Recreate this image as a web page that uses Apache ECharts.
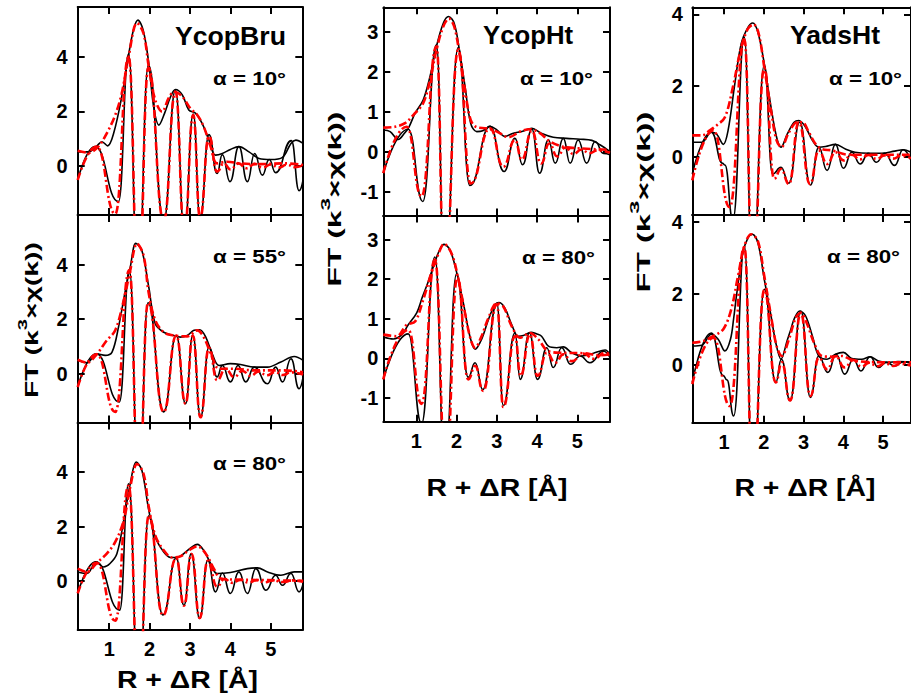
<!DOCTYPE html>
<html>
<head>
<meta charset="utf-8">
<script src="https://cdn.jsdelivr.net/npm/echarts@6/dist/echarts.min.js"></script>
<style>
html, body { margin: 0; padding: 0; background: #fff; }
#chart { width: 911px; height: 697px; }
</style>
</head>
<body>
<div id="chart"></div>
<script>
// Fourier-transformed EXAFS, |FT| and Im(FT): measured (black) vs fit (red), [R+dR, value]

// ---- YcopBru, alpha = 10 deg ----
const ycopBru10Mag = [[0.22,0.52],[0.49,0.52],[0.69,0.73],[0.82,0.89],[0.96,0.74],[1.11,1.2],[1.31,2.54],[1.48,4.06],[1.6,4.98],[1.71,5.34],[1.84,4.98],[1.98,3.76],[2.1,2.17],[2.23,1.5],[2.37,1.93],[2.52,2.54],[2.64,2.8],[2.81,2.6],[2.97,2.05],[3.14,1.93],[3.3,1.56],[3.47,0.95],[3.63,0.4],[3.8,0.46],[4.0,0.61],[4.21,0.71],[4.46,0.52],[4.71,0.28],[5.0,0.24],[5.29,0.32],[5.5,0.83],[5.62,0.95],[5.8,0.83]];
const ycopBru10Im = [[0.22,-0.51],[0.65,0.71],[1.23,-1.3],[1.48,4.1],[1.71,-4.5],[1.97,3.7],[2.35,-2.0],[2.64,2.78],[2.86,-2.4],[3.08,1.9],[3.25,-1.9],[3.47,1.15],[3.67,-0.27],[3.8,0.42],[3.99,-0.57],[4.21,0.71],[4.42,-0.57],[4.6,0.46],[4.79,-0.33],[4.96,0.24],[5.12,-0.24],[5.51,0.93],[5.7,-0.9],[5.8,-0.5]];
const ycopBru10FitMag = [[0.22,0.56],[0.49,0.49],[0.73,0.71],[0.94,1.2],[1.15,1.87],[1.31,2.66],[1.48,4.0],[1.69,5.24],[1.85,4.85],[1.98,3.63],[2.14,2.41],[2.31,1.99],[2.47,2.48],[2.61,2.72],[2.81,2.54],[3.01,2.11],[3.18,1.87],[3.34,1.44],[3.51,0.71],[3.67,0.1],[3.92,0.16],[4.25,0.1],[4.75,0.07],[5.33,0.1],[5.8,0.04]];
const ycopBru10FitIm = [[0.22,-0.51],[0.69,0.71],[1.15,-1.75],[1.48,4.0],[1.72,-4.5],[1.97,3.6],[2.35,-2.0],[2.64,2.72],[2.86,-2.4],[3.08,1.87],[3.25,-1.9],[3.47,1.1],[3.67,-0.2],[3.84,0.1],[4.0,-0.12],[4.2,0.1],[4.4,-0.08],[4.6,0.08],[4.8,-0.06],[5.0,0.06],[5.2,-0.05],[5.4,0.05],[5.6,-0.04],[5.8,0.03]];

// ---- YcopBru, alpha = 55 deg ----
const ycopBru55Mag = [[0.22,0.49],[0.45,0.4],[0.69,0.73],[0.9,0.67],[1.07,0.79],[1.23,1.71],[1.4,3.05],[1.52,3.9],[1.66,4.78],[1.81,4.51],[1.98,3.17],[2.14,1.83],[2.35,1.52],[2.6,1.4],[2.76,1.34],[2.93,1.4],[3.1,1.59],[3.24,1.61],[3.39,1.34],[3.55,0.73],[3.72,0.3],[4.0,0.37],[4.25,0.34],[4.59,0.24],[4.92,0.24],[5.25,0.43],[5.58,0.63],[5.8,0.49]];
const ycopBru55Im = [[0.22,-0.49],[0.68,0.73],[1.25,-1.04],[1.5,3.8],[1.73,-4.5],[1.96,2.6],[2.35,-1.4],[2.66,1.4],[2.89,-1.1],[3.07,1.42],[3.26,-1.6],[3.47,0.98],[3.67,-0.12],[3.8,0.3],[4.0,-0.3],[4.19,0.3],[4.38,-0.3],[4.59,0.24],[4.92,-0.37],[5.12,0.24],[5.29,-0.3],[5.5,0.55],[5.7,-0.55],[5.8,-0.12]];
const ycopBru55FitMag = [[0.22,0.51],[0.45,0.4],[0.69,0.71],[0.94,1.22],[1.15,1.59],[1.36,2.69],[1.52,3.79],[1.69,4.77],[1.85,4.34],[1.98,2.94],[2.14,1.96],[2.35,1.52],[2.6,1.4],[2.93,1.37],[3.18,1.59],[3.34,1.34],[3.55,0.61],[3.72,0.18],[4.09,0.18],[4.59,0.12],[5.33,0.12],[5.8,0.06]];
const ycopBru55FitIm = [[0.22,-0.49],[0.69,0.71],[1.15,-1.4],[1.5,3.8],[1.73,-4.5],[1.96,2.6],[2.35,-1.4],[2.66,1.4],[2.89,-1.1],[3.07,1.4],[3.26,-1.6],[3.47,0.95],[3.67,-0.24],[3.88,0.18],[4.09,-0.12],[4.3,0.1],[4.5,-0.08],[4.7,0.08],[4.9,-0.06],[5.1,0.06],[5.3,-0.05],[5.5,0.05],[5.8,-0.03]];

// ---- YcopBru, alpha = 80 deg ----
const ycopBru80Mag = [[0.22,0.34],[0.45,0.28],[0.68,0.71],[0.86,0.52],[1.02,0.65],[1.19,1.01],[1.36,2.23],[1.52,3.57],[1.67,4.37],[1.81,4.06],[1.98,2.6],[2.14,1.62],[2.35,1.07],[2.52,0.87],[2.72,0.89],[2.89,1.07],[3.05,1.26],[3.18,1.35],[3.34,1.13],[3.51,0.65],[3.67,0.28],[4.0,0.32],[4.42,0.46],[4.67,0.49],[4.92,0.34],[5.25,0.22],[5.58,0.34],[5.8,0.34]];
const ycopBru80Im = [[0.22,-0.45],[0.67,0.71],[1.26,-1.06],[1.48,3.57],[1.73,-4.3],[1.98,2.4],[2.33,-1.24],[2.66,0.85],[2.85,-0.88],[3.03,1.01],[3.24,-1.37],[3.44,0.77],[3.63,-0.39],[3.8,0.3],[4.0,-0.45],[4.21,0.34],[4.42,-0.45],[4.63,0.46],[4.88,-0.33],[5.12,0.22],[5.29,-0.15],[5.5,0.28],[5.7,-0.39],[5.8,-0.09]];
const ycopBru80FitMag = [[0.22,0.46],[0.45,0.34],[0.69,0.67],[0.94,1.01],[1.15,1.44],[1.36,2.23],[1.52,3.45],[1.69,4.3],[1.85,3.94],[1.98,2.72],[2.14,1.68],[2.35,1.13],[2.56,0.87],[2.76,0.91],[2.97,1.13],[3.18,1.28],[3.39,1.01],[3.59,0.46],[3.76,0.1],[4.09,0.06],[4.92,0.04],[5.8,0.01]];
const ycopBru80FitIm = [[0.22,-0.45],[0.69,0.67],[1.15,-1.45],[1.48,3.5],[1.73,-4.3],[1.98,2.4],[2.33,-1.25],[2.66,0.85],[2.85,-0.9],[3.04,1.0],[3.24,-1.35],[3.44,0.75],[3.67,-0.2],[3.85,0.08],[4.05,-0.06],[4.25,0.05],[4.45,-0.05],[4.65,0.04],[4.85,-0.04],[5.05,0.03],[5.3,-0.03],[5.55,0.03],[5.8,-0.02]];

// ---- YcopHt, alpha = 10 deg ----
const ycopHt10Mag = [[0.18,0.54],[0.35,0.5],[0.55,0.3],[0.7,0.45],[0.82,0.62],[0.97,0.96],[1.17,1.29],[1.34,1.88],[1.5,2.63],[1.67,3.21],[1.8,3.38],[1.94,3.21],[2.07,2.54],[2.21,1.63],[2.35,0.71],[2.5,0.5],[2.65,0.52],[2.83,0.63],[3.0,0.54],[3.2,0.38],[3.41,0.46],[3.62,0.5],[3.87,0.58],[4.1,0.46],[4.4,0.36],[4.73,0.33],[5.07,0.31],[5.36,0.28],[5.56,0.17],[5.81,0.0]];
const ycopHt10Im = [[0.18,-0.54],[0.8,0.56],[1.16,-1.25],[1.5,2.67],[1.7,-3.3],[2.04,2.6],[2.33,-0.85],[2.83,0.63],[3.18,-0.5],[3.45,0.33],[3.64,-0.33],[3.87,0.56],[4.06,-0.54],[4.28,0.29],[4.45,-0.29],[4.65,0.33],[4.82,-0.29],[5.02,0.29],[5.23,-0.29],[5.44,0.25],[5.65,-0.05],[5.81,-0.08]];
const ycopHt10FitMag = [[0.18,0.6],[0.47,0.62],[0.72,0.71],[0.93,0.92],[1.17,1.21],[1.34,1.79],[1.5,2.54],[1.67,3.13],[1.81,3.33],[1.94,3.13],[2.07,2.46],[2.21,1.54],[2.35,0.79],[2.5,0.61],[2.75,0.58],[3.0,0.5],[3.29,0.36],[3.58,0.5],[3.82,0.56],[4.07,0.46],[4.32,0.25],[4.65,0.12],[5.07,0.08],[5.81,0.04]];
const ycopHt10FitIm = [[0.18,-0.54],[0.76,0.62],[1.13,-1.12],[1.5,2.63],[1.7,-3.3],[2.04,2.54],[2.35,-0.8],[2.83,0.58],[3.16,-0.38],[3.45,0.29],[3.62,-0.2],[3.87,0.52],[4.1,-0.3],[4.3,0.2],[4.5,-0.12],[4.7,0.1],[4.9,-0.06],[5.1,0.05],[5.3,-0.04],[5.5,0.03],[5.81,-0.03]];

// ---- YcopHt, alpha = 80 deg ----
const ycopHt80Mag = [[0.18,0.54],[0.43,0.49],[0.64,0.6],[0.8,0.85],[1.01,1.15],[1.15,1.55],[1.3,1.95],[1.42,2.31],[1.59,2.77],[1.69,2.88],[1.84,2.73],[2.0,2.18],[2.17,1.39],[2.33,0.56],[2.46,0.23],[2.62,0.48],[2.79,0.98],[2.95,1.35],[3.05,1.41],[3.2,1.27],[3.37,0.85],[3.53,0.56],[3.66,0.58],[3.85,0.66],[3.98,0.62],[4.11,0.56],[4.28,0.31],[4.49,0.27],[4.65,0.29],[4.86,0.14],[5.11,0.06],[5.4,0.13],[5.69,0.21],[5.81,0.1]];
const ycopHt80Im = [[0.18,-0.53],[0.8,0.62],[1.13,-1.65],[1.46,2.56],[1.71,-2.8],[2.0,2.14],[2.29,-0.48],[2.46,-0.11],[2.65,-0.79],[3.0,1.39],[3.16,-1.19],[3.45,0.64],[3.58,-0.53],[3.81,0.64],[4.01,-0.53],[4.24,0.27],[4.4,-0.23],[4.61,0.27],[4.83,-0.15],[5.07,0.06],[5.31,-0.11],[5.65,0.18],[5.81,0.02]];
const ycopHt80FitMag = [[0.18,0.6],[0.51,0.56],[0.76,0.85],[0.97,0.93],[1.17,1.48],[1.38,2.18],[1.55,2.64],[1.69,2.89],[1.88,2.64],[2.04,2.02],[2.21,1.14],[2.35,0.48],[2.46,0.27],[2.62,0.56],[2.79,1.02],[3.0,1.39],[3.16,1.31],[3.37,0.81],[3.58,0.52],[3.82,0.64],[4.03,0.48],[4.28,0.18],[4.65,0.14],[5.15,0.13],[5.56,0.08],[5.81,0.1]];
const ycopHt80FitIm = [[0.18,-0.53],[0.8,0.72],[1.13,-1.15],[1.46,2.5],[1.73,-2.8],[2.02,2.05],[2.29,-0.53],[2.46,-0.19],[2.66,-0.82],[3.0,1.37],[3.16,-1.23],[3.45,0.56],[3.59,-0.44],[3.82,0.6],[4.01,-0.44],[4.24,0.14],[4.45,-0.11],[4.65,0.1],[4.86,-0.07],[5.15,0.12],[5.4,-0.01],[5.69,0.14],[5.81,0.12]];

// ---- YadsHt, alpha = 10 deg ----
const yadsHt10Mag = [[0.2,0.42],[0.44,0.42],[0.68,0.7],[0.81,0.65],[0.98,0.36],[1.1,0.75],[1.27,2.06],[1.43,3.18],[1.6,3.64],[1.72,3.76],[1.85,3.5],[2.01,2.62],[2.18,1.4],[2.32,0.56],[2.43,0.28],[2.59,0.65],[2.76,0.98],[2.88,1.03],[3.05,0.84],[3.22,0.47],[3.38,0.28],[3.55,0.3],[3.8,0.36],[4.05,0.23],[4.29,0.14],[4.63,0.11],[4.96,0.11],[5.29,0.17],[5.5,0.21],[5.7,0.14]];
const yadsHt10Im = [[0.2,-0.47],[0.68,0.7],[0.96,-0.17],[1.02,-0.22],[1.22,-1.75],[1.51,3.36],[1.71,-3.5],[2.01,2.57],[2.22,-0.47],[2.43,-0.28],[2.63,-0.73],[2.9,0.98],[3.17,-0.78],[3.38,0.28],[3.59,-0.37],[3.8,0.36],[4.0,-0.31],[4.21,0.14],[4.42,-0.19],[4.63,0.11],[4.83,-0.14],[5.04,0.11],[5.29,-0.23],[5.5,0.21],[5.7,-0.1]];
const yadsHt10FitMag = [[0.2,0.61],[0.44,0.61],[0.64,0.75],[0.81,0.89],[1.02,1.12],[1.22,1.96],[1.43,3.08],[1.6,3.6],[1.74,3.72],[1.87,3.46],[2.01,2.52],[2.18,1.31],[2.32,0.47],[2.44,0.28],[2.63,0.7],[2.84,0.98],[2.97,0.98],[3.13,0.7],[3.3,0.37],[3.46,0.23],[3.71,0.19],[4.13,0.07],[4.79,0.07],[5.7,0.07]];
const yadsHt10FitIm = [[0.2,-0.65],[0.73,0.75],[1.14,-1.4],[1.51,3.3],[1.72,-3.5],[2.01,2.5],[2.26,-0.6],[2.43,-0.33],[2.63,-0.75],[2.88,0.98],[3.16,-0.75],[3.38,0.19],[3.59,-0.19],[3.8,0.14],[4.0,-0.09],[4.21,0.07],[4.42,-0.06],[4.63,0.06],[4.83,-0.05],[5.04,0.05],[5.25,-0.04],[5.45,0.04],[5.7,-0.03]];

// ---- YadsHt, alpha = 80 deg ----
const yadsHt80Mag = [[0.2,0.53],[0.44,0.55],[0.68,0.86],[0.85,0.72],[1.02,0.39],[1.16,0.72],[1.24,1.3],[1.31,1.93],[1.47,3.14],[1.6,3.56],[1.71,3.66],[1.85,3.42],[2.01,2.4],[2.18,1.37],[2.3,0.62],[2.43,0.16],[2.59,0.7],[2.68,1.0],[2.76,1.28],[2.9,1.51],[3.05,1.37],[3.22,0.81],[3.38,0.25],[3.59,0.16],[3.8,0.3],[4.0,0.35],[4.21,0.18],[4.46,0.16],[4.67,0.23],[4.88,0.11],[5.12,0.07],[5.37,0.09],[5.7,0.08]];
const yadsHt80Im = [[0.2,-0.49],[0.68,0.89],[0.98,-0.3],[1.07,-0.42],[1.24,-1.43],[1.51,3.33],[1.72,-3.5],[2.01,2.12],[2.3,-0.49],[2.44,0.16],[2.66,-1.0],[2.93,1.51],[3.17,-0.91],[3.38,0.25],[3.61,-0.21],[3.82,0.3],[4.03,-0.26],[4.25,0.16],[4.44,-0.17],[4.67,0.23],[4.88,-0.07],[5.08,0.07],[5.29,-0.03],[5.5,0.08],[5.7,0.05]];
const yadsHt80FitMag = [[0.2,0.62],[0.48,0.67],[0.73,0.81],[0.98,1.0],[1.18,1.56],[1.35,2.49],[1.51,3.33],[1.68,3.66],[1.85,3.47],[2.01,2.49],[2.18,1.37],[2.32,0.53],[2.45,0.25],[2.63,0.72],[2.8,1.32],[2.93,1.46],[3.09,1.14],[3.26,0.62],[3.46,0.25],[3.71,0.23],[3.96,0.25],[4.21,0.14],[4.63,0.08],[5.7,0.07]];
const yadsHt80FitIm = [[0.2,-0.54],[0.73,0.76],[1.14,-1.15],[1.51,3.3],[1.72,-3.5],[2.01,2.1],[2.3,-0.49],[2.45,0.07],[2.66,-1.0],[2.93,1.46],[3.17,-0.87],[3.38,0.2],[3.59,-0.12],[3.8,0.25],[4.03,-0.07],[4.25,0.14],[4.45,-0.05],[4.65,0.06],[4.85,-0.04],[5.05,0.04],[5.25,-0.03],[5.45,0.03],[5.7,-0.02]];

// ---- tick values and labels ----
const xTickValues = [1, 2, 3, 4, 5];
const yTicksYcopBru = [0, 2, 4];
const yTicksYcopHt = [-1, 0, 1, 2, 3];
const yTicksYadsHt = [0, 2, 4];
const sampleNames = ['YcopBru', 'YcopHt', 'YadsHt'];
const angleLabels = ['α = 10°', 'α = 55°', 'α = 80°'];
const xAxisTitle = 'R + ΔR [Å]';
const yAxisTitleParts = ['FT (k', '3', '×χ(k))'];

// ---- layout (pixels) ----
const columns = [
  { left: 77.7, width: 224.6, xRange: [0.22, 5.78], yRange: [-1.79, 5.82], yTicks: yTicksYcopBru, yLabelMargin: 10,
    rows: [[7, 208], [215, 207.5], [422.5, 207.5]],
    title: { x: 286, y: 45, w: 111 },
    angles: [{ x: 286, y: 85 }, { x: 286, y: 263 }, { x: 286, y: 470 }],
    yTitle: { x: 28, y: 320, len: 156 }, xTitle: { x: 187.5, y: 680 } },
  { left: 383.3, width: 226.7, xRange: [0.18, 5.81], yRange: [-1.6, 3.61], yTicks: yTicksYcopHt, yLabelMargin: 5,
    rows: [[7.3, 208.2], [215.5, 206.2]],
    title: { x: 573, y: 44, w: 90 },
    angles: [{ x: 593, y: 85 }, { x: 595, y: 264 }],
    yTitle: { x: 331, y: 199, len: 175 }, xTitle: { x: 497, y: 487.5 } },
  { left: 692.3, width: 221, xRange: [0.2, 5.7], yRange: [-1.62, 4.2], yTicks: yTicksYadsHt, yLabelMargin: 9.5,
    rows: [[7.3, 207.7], [215, 207.7]],
    title: { x: 880, y: 44, w: 90 },
    angles: [{ x: 902, y: 85 }, { x: 900, y: 263 }],
    yTitle: { x: 640, y: 202, len: 181 }, xTitle: { x: 805, y: 487.5 } }
];

// panels: column, row, angle label index, curves
const panels = [
  { col: 0, row: 0, angle: 0, curves: [ycopBru10Mag, ycopBru10Im, ycopBru10FitMag, ycopBru10FitIm] },
  { col: 0, row: 1, angle: 1, curves: [ycopBru55Mag, ycopBru55Im, ycopBru55FitMag, ycopBru55FitIm] },
  { col: 0, row: 2, angle: 2, curves: [ycopBru80Mag, ycopBru80Im, ycopBru80FitMag, ycopBru80FitIm] },
  { col: 1, row: 0, angle: 0, curves: [ycopHt10Mag, ycopHt10Im, ycopHt10FitMag, ycopHt10FitIm] },
  { col: 1, row: 1, angle: 2, curves: [ycopHt80Mag, ycopHt80Im, ycopHt80FitMag, ycopHt80FitIm] },
  { col: 2, row: 0, angle: 0, curves: [yadsHt10Mag, yadsHt10Im, yadsHt10FitMag, yadsHt10FitIm] },
  { col: 2, row: 1, angle: 2, curves: [yadsHt80Mag, yadsHt80Im, yadsHt80FitMag, yadsHt80FitIm] }
];

const FONT = '"Liberation Sans", Arial, Helvetica, sans-serif';
const measureCtx = document.createElement('canvas').getContext('2d');
function textWidth(text, size) {
  measureCtx.font = 'bold ' + size + 'px ' + FONT;
  return measureCtx.measureText(text).width;
}

const axisLineStyle = { color: '#000', width: 2 };
const labelStyle = { color: '#000', fontFamily: FONT, fontWeight: 'bold', fontSize: 20 };

const grids = [], xAxes = [], yAxes = [], series = [], graphics = [];

panels.forEach((p, i) => {
  const c = columns[p.col];
  const [top, height] = c.rows[p.row];
  const isBottom = p.row === c.rows.length - 1;
  grids.push({ left: c.left, top: top, width: c.width, height: height, containLabel: false });

  ['bottom', 'top'].forEach((pos) => {
    xAxes.push({
      type: 'value', gridIndex: i, position: pos, min: c.xRange[0], max: c.xRange[1],
      axisLine: { show: true, onZero: false, lineStyle: axisLineStyle },
      axisTick: { show: true, inside: true, length: 7, customValues: xTickValues, lineStyle: axisLineStyle },
      axisLabel: Object.assign({ show: pos === 'bottom' && isBottom, margin: 9, customValues: xTickValues }, labelStyle),
      splitLine: { show: false }
    });
  });
  ['left', 'right'].forEach((pos) => {
    yAxes.push({
      type: 'value', gridIndex: i, position: pos, min: c.yRange[0], max: c.yRange[1],
      axisLine: { show: true, onZero: false, lineStyle: axisLineStyle },
      axisTick: { show: true, inside: true, length: 7, customValues: c.yTicks, lineStyle: axisLineStyle },
      axisLabel: Object.assign({ show: pos === 'left', margin: c.yLabelMargin, customValues: c.yTicks }, labelStyle),
      splitLine: { show: false }
    });
  });

  const [mag, im, fitMag, fitIm] = p.curves;
  const base = { type: 'line', xAxisIndex: 2 * i, yAxisIndex: 2 * i, showSymbol: false, symbol: 'none', clip: true, silent: true };
  const black = { color: '#000', width: 1.6 };
  const red = { color: '#ff0000', width: 2.6, type: [8, 3, 2, 3] };
  series.push(Object.assign({}, base, { name: 'data |FT|', data: mag, smooth: 0.35, lineStyle: black, z: 2 }));
  series.push(Object.assign({}, base, { name: 'data Im', data: im, smooth: 0.5, smoothMonotone: 'x', lineStyle: black, z: 2 }));
  series.push(Object.assign({}, base, { name: 'fit |FT|', data: fitMag, smooth: 0.35, lineStyle: red, z: 3 }));
  series.push(Object.assign({}, base, { name: 'fit Im', data: fitIm, smooth: 0.5, smoothMonotone: 'x', lineStyle: red, z: 3 }));

  // angle annotation
  const a = c.angles[p.row];
  const aText = angleLabels[p.angle];
  graphics.push({
    type: 'text', x: a.x, y: a.y - 0.35 * 18.6, scaleX: 73 / textWidth(aText, 18.6), z: 10,
    style: { text: aText, fill: '#000', font: 'bold 18.6px ' + FONT, align: 'right', verticalAlign: 'middle' }
  });
});

const yTitleNatural = textWidth(yAxisTitleParts[0] + yAxisTitleParts[2], 19) + textWidth(yAxisTitleParts[1], 13.5);

columns.forEach((c, ci) => {
  // sample name
  graphics.push({
    type: 'text', x: c.title.x, y: c.title.y - 0.35 * 25.5, scaleX: c.title.w / textWidth(sampleNames[ci], 25.5), z: 10,
    style: { text: sampleNames[ci], fill: '#000', font: 'bold 25.5px ' + FONT, align: 'right', verticalAlign: 'middle' }
  });
  // vertical axis title with superscript exponent
  graphics.push({
    type: 'text', x: c.yTitle.x, y: c.yTitle.y, rotation: Math.PI / 2, scaleX: c.yTitle.len / yTitleNatural, z: 10,
    style: {
      text: '{a|' + yAxisTitleParts[0] + '}{s|' + yAxisTitleParts[1] + '}{a|' + yAxisTitleParts[2] + '}',
      align: 'center', verticalAlign: 'middle',
      rich: {
        a: { fill: '#000', fontFamily: FONT, fontWeight: 'bold', fontSize: 19, lineHeight: 26, verticalAlign: 'bottom' },
        s: { fill: '#000', fontFamily: FONT, fontWeight: 'bold', fontSize: 13.5, lineHeight: 26, verticalAlign: 'top' }
      }
    }
  });
  // horizontal axis title
  graphics.push({
    type: 'text', x: c.xTitle.x, y: c.xTitle.y, scaleX: 141 / textWidth(xAxisTitle, 23), z: 10,
    style: { text: xAxisTitle, fill: '#000', font: 'bold 23px ' + FONT, align: 'center', verticalAlign: 'middle' }
  });
});

const chart = echarts.init(document.getElementById('chart'), null, { renderer: 'svg', width: 911, height: 697 });
chart.setOption({
  animation: false,
  backgroundColor: '#fff',
  grid: grids,
  xAxis: xAxes,
  yAxis: yAxes,
  series: series,
  graphic: graphics
});
</script>
</body>
</html>
